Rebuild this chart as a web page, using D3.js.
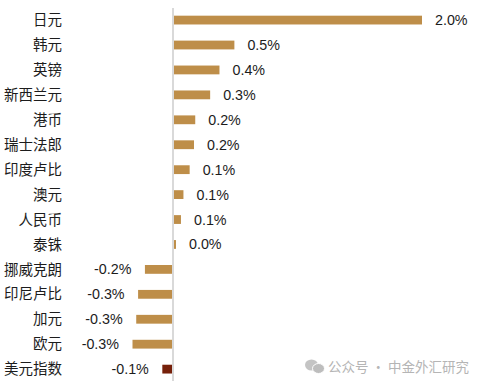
<!DOCTYPE html>
<html><head><meta charset="utf-8">
<script src="https://cdn.jsdelivr.net/npm/d3@7"></script>
<style>html,body{margin:0;padding:0;background:#fff}svg{display:block}</style></head>
<body><svg id="c" width="485" height="386"></svg>
<script>
const categories=["日元","韩元","英镑","新西兰元","港币","瑞士法郎","印度卢比","澳元","人民币","泰铢","挪威克朗","印尼卢比","加元","欧元","美元指数"];
const values=[2.0,0.49,0.37,0.295,0.175,0.165,0.13,0.08,0.06,0.02,-0.23,-0.285,-0.3,-0.33,-0.09];
const barColors=["#BE8E49","#BE8E49","#BE8E49","#BE8E49","#BE8E49","#BE8E49","#BE8E49","#BE8E49","#BE8E49","#BE8E49","#BE8E49","#BE8E49","#BE8E49","#BE8E49","#76200A"];
const watermark="公众号 · 中金外汇研究";
const svg=d3.select("#c");
const x=d3.scaleLinear().domain([0,2]).range([173.5,422]);
const y=d3.scaleBand().domain(categories).range([7.7,381.5]).paddingInner(0.647).paddingOuter(0.32);
const latin="'Liberation Sans',Arial,sans-serif";
const cjk="'Noto Sans CJK SC','Liberation Sans',sans-serif";
svg.selectAll("rect.bar").data(values).join("rect").attr("class","bar")
 .attr("x",d=>d>=0?x(0):x(d))
 .attr("y",(d,i)=>y(categories[i]))
 .attr("width",d=>Math.abs(x(d)-x(0)))
 .attr("height",y.bandwidth())
 .attr("fill",(d,i)=>barColors[i]);
svg.append("line").attr("x1",x(0)-0.5).attr("x2",x(0)-0.5).attr("y1",8).attr("y2",381).attr("stroke","#D9D9D9").attr("stroke-width",2);
const axis=d3.axisLeft(y).tickSize(0).tickPadding(0);
const g=svg.append("g").attr("transform","translate(62,0.5)").call(axis);
g.select(".domain").remove();
g.selectAll("text").attr("font-family",cjk).attr("font-size",14.5).attr("fill","#1c1c1c");
svg.selectAll("text.val").data(values).join("text").attr("class","val")
 .attr("x",d=>d>=0?x(d)+13:x(d)-13.5)
 .attr("y",(d,i)=>y(categories[i])+y.bandwidth()/2)
 .attr("dy","0.35em")
 .attr("text-anchor",d=>d>=0?"start":"end")
 .attr("font-family",latin).attr("font-size",14.3).attr("fill","#1c1c1c")
 .text(d=>d3.format(".1f")(d).replace("−","-")+"%");
const w=svg.append("g");
w.append("ellipse").attr("cx",311.5).attr("cy",365).attr("rx",6.5).attr("ry",5.5).attr("fill","#C4C4C4");
w.append("ellipse").attr("cx",318.5).attr("cy",368.5).attr("rx",6).attr("ry",5).attr("fill","#BDBDBD").attr("stroke","#fff").attr("stroke-width",1);
svg.append("text").attr("x",328).attr("y",372).attr("font-family",cjk).attr("font-size",13.5).attr("fill","#B5B5B5").text(watermark);
</script></body></html>
